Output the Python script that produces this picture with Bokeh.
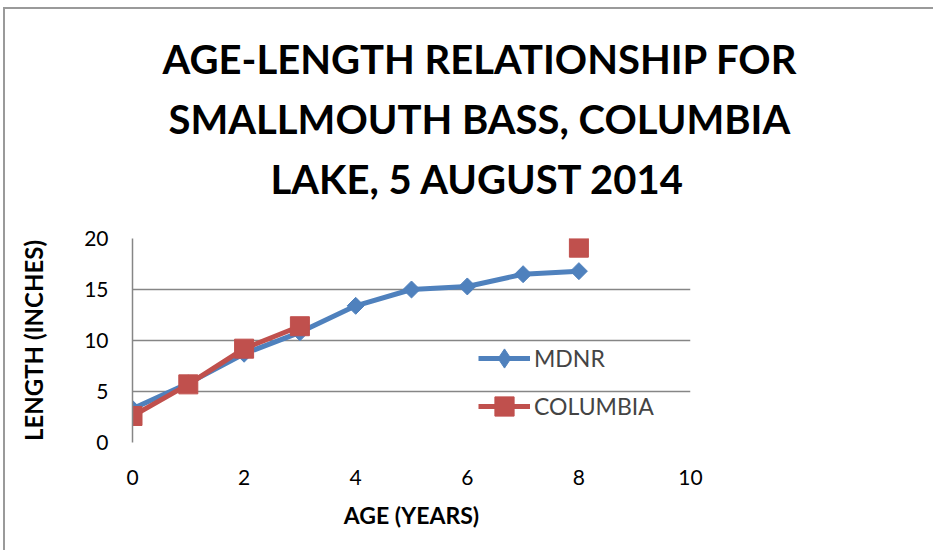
import numpy as np
from bokeh.plotting import figure
from bokeh.models import Legend, LegendItem, Range1d, FixedTicker, Title
from bokeh.embed import file_html
from bokeh.resources import INLINE

# ---- data ----
ages = [0, 1, 2, 3, 4, 5, 6, 7, 8]
mdnr = [3.3, 5.8, 8.7, 10.8, 13.4, 15.0, 15.3, 16.5, 16.8]
columbia = [2.6, 5.7, 9.2, 11.4, np.nan, np.nan, np.nan, np.nan, 19.1]
x_ticks = [0, 2, 4, 6, 8, 10]
y_ticks = [0, 5, 10, 15, 20]
title_lines = ["AGE-LENGTH RELATIONSHIP FOR", "SMALLMOUTH BASS, COLUMBIA", "LAKE, 5 AUGUST 2014"]

BLUE = "#4F81BD"
RED = "#C0504D"
GRID = "#868686"
FONT = "Lato"

W, H = 930, 543
left, top = 127, 229
frame_w, frame_h = 556, 202
right = W - 2 - left - frame_w
bottom = H - 2 - top - frame_h

p = figure(width=W, height=H, output_backend="svg", toolbar_location=None,
           title=None,
           x_range=Range1d(0, 10), y_range=Range1d(0, 20),
           min_border_left=left, min_border_right=right,
           min_border_top=top, min_border_bottom=bottom)
p.outline_line_color = None
p.background_fill_color = "white"
p.border_fill_color = "white"

# axes
p.xaxis.ticker = FixedTicker(ticks=x_ticks)
p.yaxis.ticker = FixedTicker(ticks=y_ticks)
for ax in (p.xaxis[0], p.yaxis[0]):
    ax.major_tick_line_color = None
    ax.minor_tick_line_color = None
    ax.major_label_text_font = FONT
    ax.major_label_text_font_size = "21px"
    ax.major_label_text_color = "black"
    ax.axis_label_text_font = FONT
    ax.axis_label_text_font_style = "bold"
    ax.axis_label_text_color = "black"
p.xaxis.axis_label_text_font_size = "23px"
p.yaxis.axis_label_text_font_size = "24px"
p.xaxis.axis_line_color = None
p.yaxis.axis_line_color = GRID
p.yaxis.axis_line_width = 1.5
p.xaxis.major_label_standoff = 21
p.yaxis.major_label_standoff = 18
p.xaxis.axis_label = "AGE (YEARS)"
p.yaxis.axis_label = "LENGTH (INCHES)"
p.xaxis.axis_label_standoff = 13
p.yaxis.axis_label_standoff = 33

p.xgrid.grid_line_color = None
p.ygrid.grid_line_color = GRID
p.ygrid.grid_line_width = 1.5

# series
l1 = p.line(ages, mdnr, line_color=BLUE, line_width=5)
p.scatter(ages, mdnr, marker="square", angle=np.pi / 4, size=12,
          fill_color=BLUE, line_color=BLUE)
l2 = p.line(ages, columbia, line_color=RED, line_width=5)
s2 = p.scatter(ages, columbia, marker="square", size=19,
               fill_color=RED, line_color=RED)
# legend-only diamond marker (not visible in the plot area)
d1 = p.scatter(x=[np.nan], y=[np.nan], marker="diamond",
               fill_color=BLUE, line_color=BLUE)

legend = Legend(items=[LegendItem(label="MDNR", renderers=[l1, d1]),
                       LegendItem(label="COLUMBIA", renderers=[l2, s2])],
                location=(346, 12), orientation="vertical",
                glyph_width=52, glyph_height=48, spacing=0, padding=0, margin=0,
                label_standoff=4, label_text_font=FONT, label_text_font_size="23px",
                border_line_color=None, background_fill_alpha=0)
p.add_layout(legend, "center")

# spacer between frame and title block
p.add_layout(Title(text=" ", text_font_size="1px", standoff=28), "above")

# title lines: added nearest-to-frame first
title_offsets = [30, 36, 138]
for txt, off in reversed(list(zip(title_lines, title_offsets))):
    p.add_layout(Title(text=txt, align="left", offset=off, text_font=FONT,
                       text_font_style="bold", text_font_size="40px",
                       text_color="black", standoff=10), "above")

p.styles = {"border-top": "2px solid #9a9a9a", "border-left": "2px solid #9a9a9a",
            "box-sizing": "border-box", "margin-left": "3px", "margin-top": "7px"}

open("out.html", "w").write(file_html(p, INLINE))
